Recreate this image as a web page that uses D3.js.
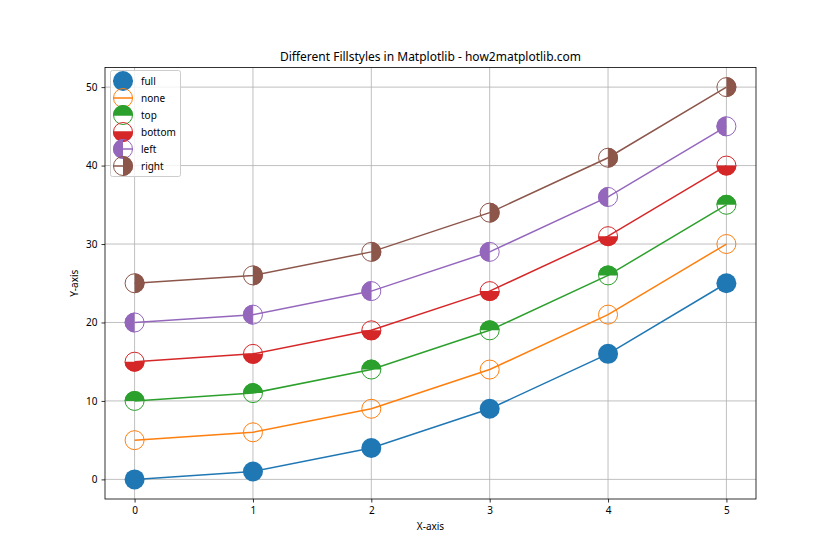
<!DOCTYPE html>
<html><head><meta charset="utf-8">
<script src="https://cdn.jsdelivr.net/npm/d3@7"></script>
<style>body{margin:0;background:#fff}svg{display:block}text{font-family:"Noto Sans","DejaVu Sans",sans-serif;fill:#000}</style>
</head><body><svg id="c" width="840" height="560"></svg>
<script>
const xValues = [0, 1, 2, 3, 4, 5];
const seriesNames = ["full", "none", "top", "bottom", "left", "right"];
const seriesFull = [0, 1, 4, 9, 16, 25];
const seriesNone = [5, 6, 9, 14, 21, 30];
const seriesTop = [10, 11, 14, 19, 26, 35];
const seriesBottom = [15, 16, 19, 24, 31, 40];
const seriesLeft = [20, 21, 24, 29, 36, 45];
const seriesRight = [25, 26, 29, 34, 41, 50];
const colors = ["#1f77b4", "#ff7f0e", "#2ca02c", "#d62728", "#9467bd", "#8c564b"];
const xTicks = [0, 1, 2, 3, 4, 5];
const yTicks = [0, 10, 20, 30, 40, 50];

const series = [seriesFull, seriesNone, seriesTop, seriesBottom, seriesLeft, seriesRight];
const svg = d3.select("#c");
const L = 105, R = 756, T = 67.5, B = 499;
const x = d3.scaleLinear().domain([-0.25, 5.25]).range([L, R]);
const y = d3.scaleLinear().domain([-2.5, 52.5]).range([B, T]);
const r = 10;

// grid
svg.append("g").selectAll("line").data(xTicks).join("line")
  .attr("x1", d => x(d)).attr("x2", d => x(d)).attr("y1", T).attr("y2", B)
  .attr("stroke", "#b0b0b0").attr("stroke-width", 0.8);
svg.append("g").selectAll("line").data(yTicks).join("line")
  .attr("y1", d => y(d)).attr("y2", d => y(d)).attr("x1", L).attr("x2", R)
  .attr("stroke", "#b0b0b0").attr("stroke-width", 0.8);

function marker(g, cx, cy, style, color) {
  const halfPath = {
    top: `M${cx - r},${cy} A${r},${r} 0 0 1 ${cx + r},${cy} Z`,
    bottom: `M${cx - r},${cy} A${r},${r} 0 0 0 ${cx + r},${cy} Z`,
    left: `M${cx},${cy - r} A${r},${r} 0 0 0 ${cx},${cy + r} Z`,
    right: `M${cx},${cy - r} A${r},${r} 0 0 1 ${cx},${cy + r} Z`
  };
  if (style === "full") {
    g.append("circle").attr("cx", cx).attr("cy", cy).attr("r", r).attr("fill", color);
  } else {
    if (halfPath[style]) g.append("path").attr("d", halfPath[style]).attr("fill", color);
    g.append("circle").attr("cx", cx).attr("cy", cy).attr("r", r - 0.5)
      .attr("fill", "none").attr("stroke", color).attr("stroke-width", 1);
  }
}

const line = d3.line().x((d, i) => x(xValues[i])).y(d => y(d));
series.forEach((s, k) => {
  const g = svg.append("g");
  g.append("path").datum(s).attr("d", line).attr("fill", "none")
    .attr("stroke", colors[k]).attr("stroke-width", 1.5);
  s.forEach((v, i) => marker(g, x(xValues[i]), y(v), seriesNames[k], colors[k]));
});

// axes
const xa = svg.append("g").attr("transform", `translate(0,${B})`)
  .call(d3.axisBottom(x).tickValues(xTicks).tickSize(3.5).tickPadding(4).tickFormat(d3.format("d")));
const ya = svg.append("g").attr("transform", `translate(${L},0)`)
  .call(d3.axisLeft(y).tickValues(yTicks).tickSize(3.5).tickPadding(4).tickFormat(d3.format("d")));
[xa, ya].forEach(a => { a.select(".domain").remove(); a.selectAll("text").attr("font-size", 10).attr("font-family", null); a.selectAll("line").attr("stroke", "#000").attr("stroke-width", 0.8); });
svg.append("rect").attr("x", L).attr("y", T).attr("width", R - L).attr("height", B - T)
  .attr("fill", "none").attr("stroke", "#000").attr("stroke-width", 0.8);

svg.append("text").attr("x", (L + R) / 2).attr("y", 61).attr("text-anchor", "middle")
  .attr("font-size", 12).text("Different Fillstyles in Matplotlib - how2matplotlib.com");
svg.append("text").attr("x", (L + R) / 2).attr("y", 530).attr("text-anchor", "middle")
  .attr("font-size", 10).text("X-axis");
svg.append("text").attr("transform", `translate(78,${(T + B) / 2}) rotate(-90)`).attr("text-anchor", "middle")
  .attr("font-size", 10).text("Y-axis");

// legend
const lg = svg.append("g");
lg.append("rect").attr("x", 110.5).attr("y", 70.5).attr("width", 70).attr("height", 106).attr("rx", 2)
  .attr("fill", "#fff").attr("fill-opacity", 0.8).attr("stroke", "#ccc").attr("stroke-width", 1);
seriesNames.forEach((n, k) => {
  const cy = 81 + k * 17;
  const g = lg.append("g");
  g.append("line").attr("x1", 113).attr("x2", 133).attr("y1", cy).attr("y2", cy)
    .attr("stroke", colors[k]).attr("stroke-width", 1.5);
  marker(g, 123, cy, n, colors[k]);
  g.append("text").attr("x", 141).attr("y", cy + 3.5).attr("font-size", 10).text(n);
});
</script></body></html>
